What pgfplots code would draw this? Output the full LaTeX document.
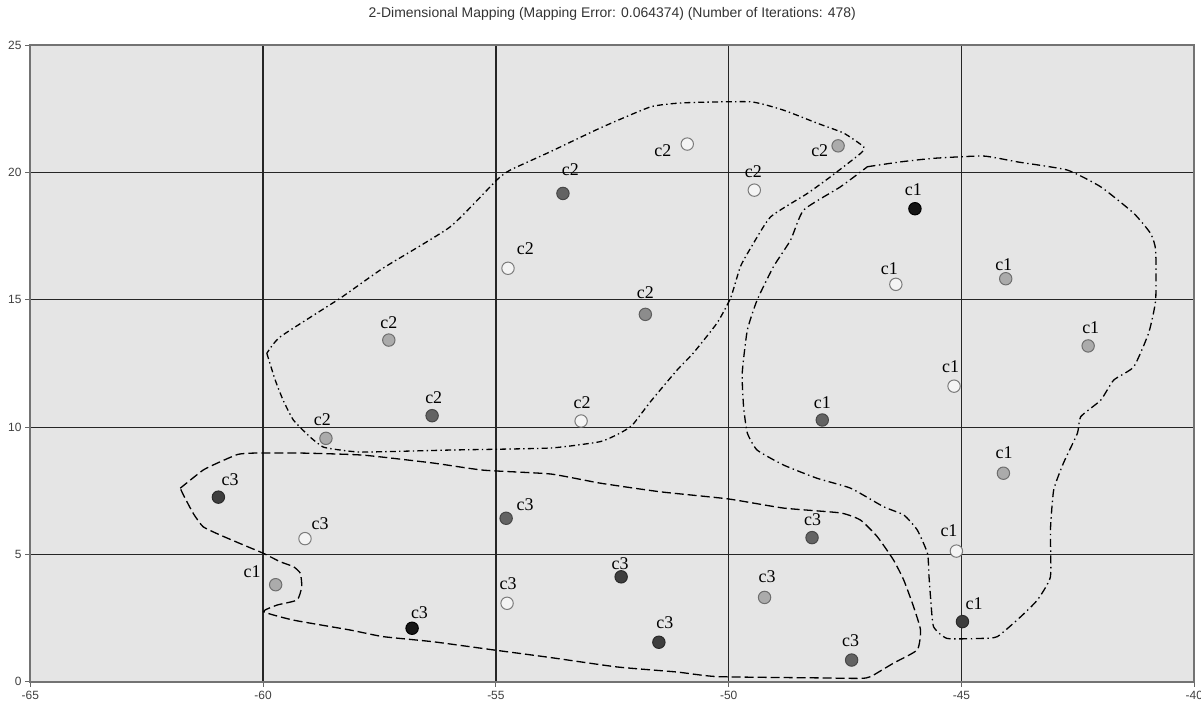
\documentclass[border=0pt]{standalone}
\usepackage{fontspec}
\setmainfont{Liberation Sans}
\newfontfamily\lblfont{Liberation Serif}
\usepackage{pgfplots}
\usepackage{pgfplotstable}
\pgfplotsset{compat=1.18}

% x y shade(1 white ... 6 black) label-dx label-dy (bp)
\pgfplotstableread{
x y g lx ly
-46.00 18.58 6 -0.8 9.3
-46.41 15.61 1 -3.2 7.7
-44.05 15.83 2 -1.0 6.8
-42.28 13.19 2 1.3 9.2
-45.16 11.61 1 -1.7 9.7
-47.99 10.28 4 0.0 8.5
-44.10 8.19 2 0.3 10.3
-45.11 5.13 1 -3.7 10.0
-44.98 2.36 5 5.8 8.8
-59.73 3.81 2 -11.8 6.5
}\cone
\pgfplotstableread{
x y g lx ly
-50.89 21.12 1 -12.2 -3.3
-47.65 21.05 2 -9.2 -2.5
-53.56 19.18 4 3.7 11.7
-49.45 19.31 1 -0.5 9.0
-54.74 16.24 1 8.7 9.7
-51.79 14.43 3 0.0 11.0
-57.30 13.42 2 0.0 8.8
-56.37 10.45 4 0.8 9.2
-53.17 10.24 1 0.5 9.3
-58.65 9.56 2 -1.8 9.5
}\ctwo
\pgfplotstableread{
x y g lx ly
-60.96 7.25 5 5.8 8.5
-59.10 5.62 1 7.5 7.3
-54.78 6.42 4 9.5 7.0
-54.76 3.08 1 0.5 9.7
-56.80 2.10 6 3.7 8.0
-52.31 4.12 5 -0.5 6.7
-51.50 1.55 5 3.0 9.8
-48.21 5.66 4 0.3 9.2
-49.23 3.31 2 1.3 10.3
-47.36 0.85 4 -0.5 9.7
}\cthree

\definecolor{sW}{HTML}{F4F4F4}
\definecolor{sL}{HTML}{ABABAB}
\definecolor{sM}{HTML}{8C8C8C}
\definecolor{sD}{HTML}{636363}
\definecolor{sV}{HTML}{3E3E3E}
\definecolor{sK}{HTML}{151515}
\definecolor{eW}{HTML}{7A7A7A}
\definecolor{eL}{HTML}{6E6E6E}
\definecolor{eM}{HTML}{5E5E5E}
\definecolor{eD}{HTML}{474747}
\definecolor{eV}{HTML}{2A2A2A}
\definecolor{eK}{HTML}{000000}

\pgfplotsset{
  shade/.style n args={3}{only marks, mark=*, mark size=3.1bp, color=#2,
    mark options={solid, draw=#2, fill=#3, line width=0.5bp},
    x filter/.expression={\thisrow{g}==#1 ? x : nan}, unbounded coords=discard},
  clusterlabels/.style={only marks, mark=none,
    visualization depends on={\thisrow{lx}\as\labx},
    visualization depends on={\thisrow{ly}\as\laby},
    nodes near coords={#1},
    every node near coord/.append style={anchor=center, xshift=\labx bp, yshift=\laby bp,
      text=black, inner sep=0pt, font=\lblfont\fontsize{9}{9}\selectfont}},
  cdash/.style={black, line width=0.65bp, mark=none, dash pattern=on 4.5bp off 2bp},
  cdashdot/.style={black, line width=0.65bp, mark=none, dash pattern=on 3bp off 1.6bp on 0.7bp off 1.6bp},
}

\begin{document}
\begin{tikzpicture}
\useasboundingbox (-15.15bp,-9.65bp) rectangle (585.35bp,340.85bp);
\begin{axis}[
  at={(0,0)}, anchor=south west, scale only axis,
  width=582bp, height=318.2bp,
  xmin=-65, xmax=-40, ymin=0, ymax=25,
  xtick={-65,-60,-55,-50,-45,-40}, ytick={0,5,10,15,20,25},
  xticklabels={-65,-60,-55,-50,-45,-40}, yticklabels={0,5,10,15,20,25},
  grid=major, major grid style={draw=black!85, line width=0.6bp},
  axis background/.style={fill=black!10},
  axis line style={draw=black!55, line width=1bp},
  tick align=outside, major tick length=2.5bp,
  tick style={draw=black!60, line width=0.5bp},
  xtick pos=left, ytick pos=left,
  tick label style={font=\fontsize{6}{6}\selectfont, text=black!75},
  xticklabel style={anchor=center, inner sep=0pt, yshift=-4.5bp},
  yticklabel style={anchor=east, inner sep=0pt, xshift=-1.7bp},
  title={2-Dimensional Mapping (Mapping Error: 0.064374) (Number of Iterations: 478)},
  every axis title shift=0pt,
  title style={at={(0.5,1)}, anchor=center, yshift=15.65bp, inner sep=0pt,
    font=\fontsize{7}{8}\selectfont, text=black!80},
]
% cluster c2 outline
\addplot[cdashdot, smooth, tension=0.3] coordinates {
(-59.92,12.90) (-59.74,11.85) (-59.57,11.06) (-59.35,10.28) (-58.99,9.61) (-58.71,9.22)
(-58.34,9.10) (-57.85,9.02) (-55.98,9.10) (-53.83,9.18) (-52.76,9.43) (-52.33,9.77)
(-52.07,10.08) (-51.68,11.00) (-51.11,12.24) (-50.76,12.91) (-50.25,14.09) (-49.96,15.07)
(-49.75,16.30) (-49.53,17.03) (-49.10,18.26) (-48.31,19.18) (-47.81,19.84) (-47.17,20.75)
(-47.10,21.01) (-47.53,21.55) (-48.10,21.94) (-48.82,22.45) (-49.53,22.78) (-50.97,22.74)
(-51.68,22.58) (-52.76,21.75) (-53.83,20.82) (-54.69,20.10) (-54.98,19.71) (-55.98,17.87)
(-57.42,16.25) (-58.34,15.07) (-59.63,13.55) (-59.92,12.90)
};
% cluster c3 outline
\addplot[cdash, smooth, tension=0.3] coordinates {
(-61.78,7.60) (-61.29,8.31) (-60.92,8.64) (-60.54,8.93) (-60.21,8.98) (-59.14,8.98)
(-57.85,8.90) (-56.35,8.59) (-55.27,8.31) (-53.83,8.16) (-52.76,7.80) (-51.47,7.46)
(-50.01,7.18) (-48.82,6.82) (-47.60,6.63) (-47.17,6.35) (-46.81,5.70) (-46.46,4.78)
(-46.24,3.99) (-46.03,2.95) (-45.88,2.03) (-45.95,1.25) (-46.46,0.73) (-46.95,0.20)
(-47.17,0.13) (-48.10,0.15) (-50.25,0.20) (-51.11,0.38) (-52.40,0.58) (-53.83,0.95)
(-55.06,1.25) (-56.35,1.57) (-57.42,1.77) (-58.13,2.03) (-59.35,2.42) (-59.99,2.75)
(-59.70,3.01) (-59.27,3.21) (-59.17,3.73) (-59.20,4.26) (-59.35,4.52) (-59.63,4.71)
(-59.99,5.04) (-60.42,5.37) (-60.92,5.76) (-61.29,6.09) (-61.50,6.61) (-61.71,7.33)
(-61.78,7.60)
};
% cluster c1 outline
\addplot[cdashdot, smooth, tension=0.3, dash pattern=on 4bp off 1.8bp on 0.7bp off 1.8bp] coordinates {
(-47.02,20.23) (-46.31,20.42) (-45.60,20.56) (-44.53,20.65) (-43.80,20.42) (-42.73,20.10)
(-42.01,19.44) (-41.30,18.40) (-40.94,17.61) (-40.83,16.96) (-40.83,14.99) (-40.98,13.70)
(-41.30,12.37) (-41.73,11.85) (-42.01,11.06) (-42.44,10.41) (-42.51,9.76) (-42.81,8.59)
(-43.02,7.53) (-43.09,5.96) (-43.09,4.12) (-43.37,3.21) (-43.73,2.55) (-44.23,1.77)
(-44.59,1.70) (-45.31,1.70) (-45.60,2.16) (-45.66,3.21) (-45.70,4.19) (-45.73,5.04)
(-45.95,5.96) (-46.24,6.55) (-46.67,6.87) (-47.38,7.60) (-48.10,7.99) (-48.82,8.51)
(-49.39,9.10) (-49.60,9.77) (-49.68,10.80) (-49.71,12.11) (-49.60,13.81) (-49.39,14.99)
(-49.04,16.30) (-48.67,17.35) (-48.39,18.53) (-47.60,19.44) (-47.02,20.23)
};
% points, one plot per cluster and shade
\addplot[shade={1}{eW}{sW}] table[x=x, y=y]{\cone};
\addplot[shade={2}{eL}{sL}] table[x=x, y=y]{\cone};
\addplot[shade={4}{eD}{sD}] table[x=x, y=y]{\cone};
\addplot[shade={5}{eV}{sV}] table[x=x, y=y]{\cone};
\addplot[shade={6}{eK}{sK}] table[x=x, y=y]{\cone};
\addplot[shade={1}{eW}{sW}] table[x=x, y=y]{\ctwo};
\addplot[shade={2}{eL}{sL}] table[x=x, y=y]{\ctwo};
\addplot[shade={3}{eM}{sM}] table[x=x, y=y]{\ctwo};
\addplot[shade={4}{eD}{sD}] table[x=x, y=y]{\ctwo};
\addplot[shade={1}{eW}{sW}] table[x=x, y=y]{\cthree};
\addplot[shade={2}{eL}{sL}] table[x=x, y=y]{\cthree};
\addplot[shade={4}{eD}{sD}] table[x=x, y=y]{\cthree};
\addplot[shade={5}{eV}{sV}] table[x=x, y=y]{\cthree};
\addplot[shade={6}{eK}{sK}] table[x=x, y=y]{\cthree};
% labels
\addplot[clusterlabels={c1}] table[x=x, y=y]{\cone};
\addplot[clusterlabels={c2}] table[x=x, y=y]{\ctwo};
\addplot[clusterlabels={c3}] table[x=x, y=y]{\cthree};
\end{axis}
\end{tikzpicture}
\end{document}
